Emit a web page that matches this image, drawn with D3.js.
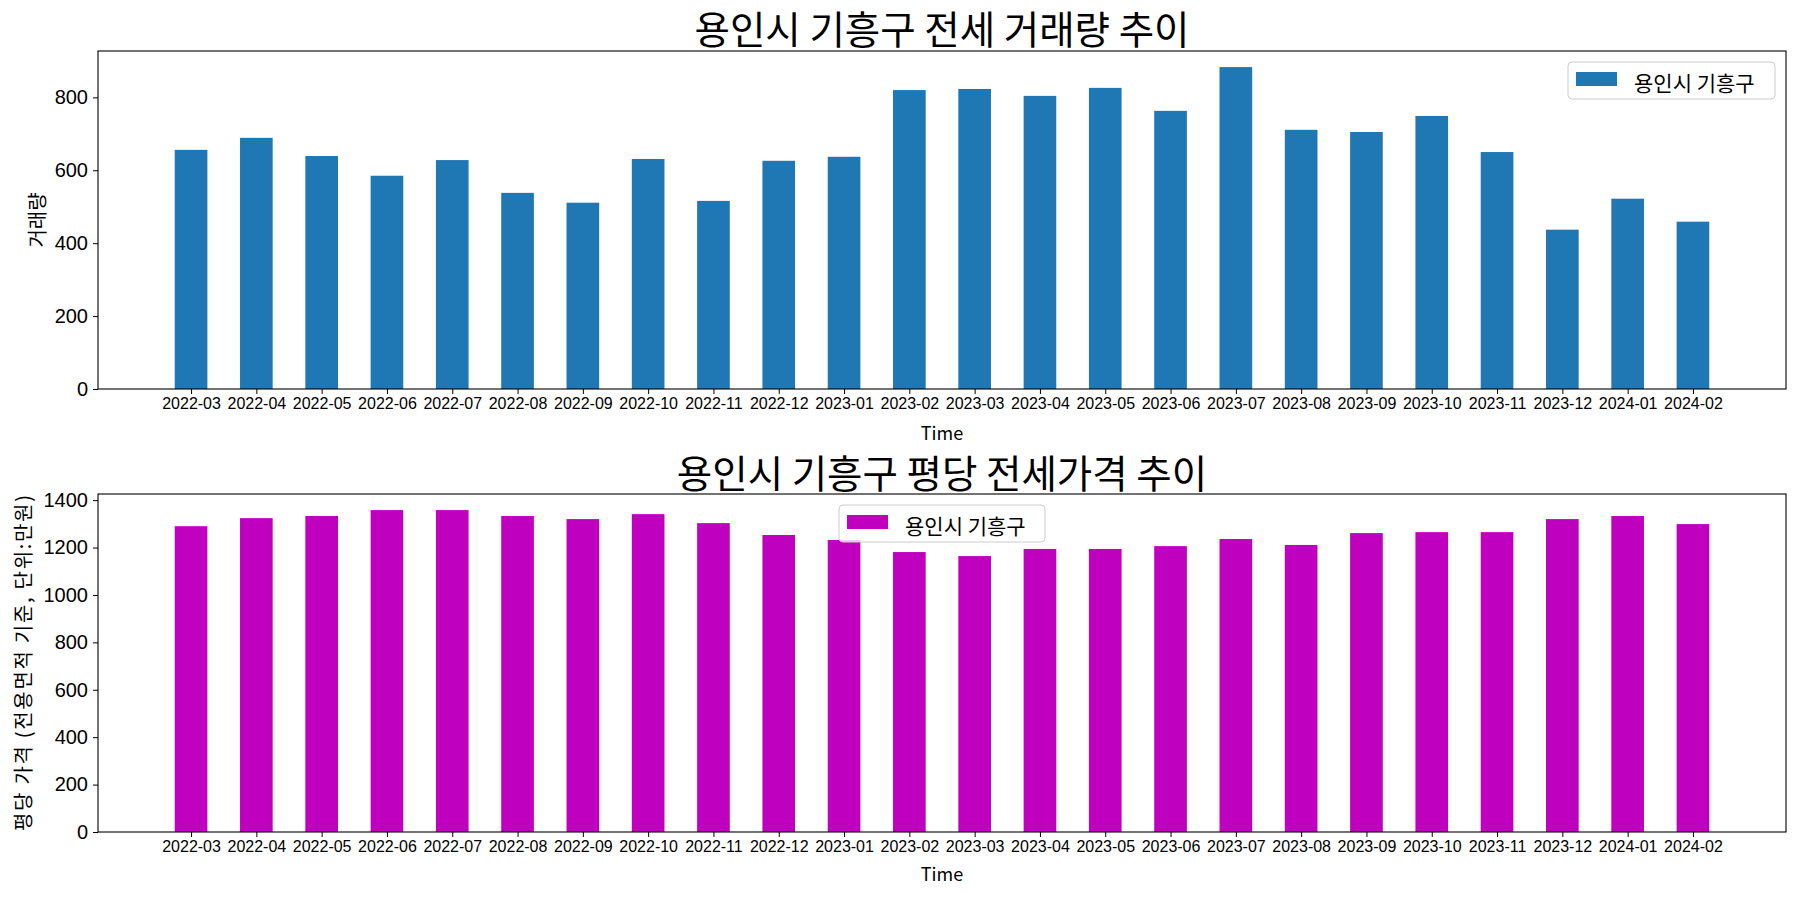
<!DOCTYPE html>
<html>
<head>
<meta charset="utf-8">
<script src="https://cdn.jsdelivr.net/npm/d3@7"></script>
<style>
  html, body { margin: 0; padding: 0; background: #fff; }
  svg { display: block; font-family: "Noto Sans CJK KR", "Noto Sans", sans-serif; }
</style>
</head>
<body>
<svg id="chart" width="1800" height="900"></svg>
<script>
// ---- data ----
const months = ["2022-03","2022-04","2022-05","2022-06","2022-07","2022-08","2022-09","2022-10","2022-11","2022-12",
  "2023-01","2023-02","2023-03","2023-04","2023-05","2023-06","2023-07","2023-08","2023-09","2023-10",
  "2023-11","2023-12","2024-01","2024-02"];
const volume = [656, 689, 639, 585, 628, 538, 511, 631, 516, 626,
  637, 820, 823, 804, 826, 763, 883, 711, 705, 749,
  650, 437, 522, 459];
const pricePerPyeong = [1290, 1324, 1333, 1358, 1358, 1333, 1320, 1341, 1303, 1253,
  1232, 1181, 1164, 1194, 1194, 1206, 1236, 1211, 1261, 1265,
  1265, 1320, 1333, 1299];
const seriesName = "용인시 기흥구";
const titles = ["용인시 기흥구 전세 거래량 추이", "용인시 기흥구 평당 전세가격 추이"];
const yLabels = ["거래량", "평당 가격 (전용면적 기준, 단위:만원)"];
const xLabel = "Time";
const yTicks1 = [0, 200, 400, 600, 800];
const yTicks2 = [0, 200, 400, 600, 800, 1000, 1200, 1400];
const colors = ["#1f77b4", "#bf00bf"];

const svg = d3.select("#chart");

function panel(cfg) {
  const { top, bottom, left, right, values, color, title, titleY, ylabel, ylabelX, ylabelLen, yticks, legendBox, xlabelY } = cfg;
  const n = values.length;
  const barW = 0.5;
  const pad = (n - 1 + barW) * 0.05;
  const x = d3.scaleLinear().domain([-barW / 2 - pad, n - 1 + barW / 2 + pad]).range([left, right]);
  const y = d3.scaleLinear().domain([0, d3.max(values) * 1.05]).range([bottom, top]);
  const g = svg.append("g");

  g.selectAll("rect.bar").data(values).enter().append("rect")
    .attr("class", "bar")
    .attr("x", (d, i) => x(i - barW / 2))
    .attr("width", (d, i) => x(i + barW / 2) - x(i - barW / 2))
    .attr("y", d => y(d))
    .attr("height", d => y(0) - y(d))
    .attr("fill", color);

  // axes frame
  g.append("rect").attr("x", left).attr("y", top).attr("width", right - left).attr("height", bottom - top)
    .attr("fill", "none").attr("stroke", "#000").attr("stroke-width", 1.1);

  const xa = g.append("g").attr("transform", `translate(0,${bottom})`)
    .call(d3.axisBottom(x).tickValues(d3.range(n)).tickFormat(i => months[i]).tickSize(5).tickPadding(4));
  xa.select(".domain").remove();
  xa.selectAll("text").attr("font-size", 16).attr("fill", "#000");
  xa.selectAll("line").attr("stroke", "#000");

  const ya = g.append("g").attr("transform", `translate(${left},0)`)
    .call(d3.axisLeft(y).tickValues(yticks).tickFormat(d3.format("d")).tickSize(5).tickPadding(5));
  ya.select(".domain").remove();
  ya.selectAll("text").attr("font-size", 20).attr("fill", "#000");
  ya.selectAll("line").attr("stroke", "#000");

  g.append("text").attr("x", (left + right) / 2).attr("y", titleY).attr("text-anchor", "middle")
    .attr("dominant-baseline", "central").attr("font-size", 38.5).attr("fill", "#000").text(title);

  const yl = g.append("text").attr("transform", `translate(${ylabelX},${(top + bottom) / 2}) rotate(-90)`)
    .attr("text-anchor", "middle").attr("dominant-baseline", "central")
    .attr("font-size", 20).attr("fill", "#000").text(ylabel);
  if (ylabelLen) yl.attr("textLength", ylabelLen).attr("lengthAdjust", "spacing");

  g.append("text").attr("x", (left + right) / 2).attr("y", xlabelY).attr("text-anchor", "middle")
    .attr("dominant-baseline", "central").attr("font-size", 18).attr("fill", "#000").text(xLabel);

  // legend
  const lg = g.append("g");
  lg.append("rect").attr("x", legendBox.x).attr("y", legendBox.y).attr("width", legendBox.w).attr("height", legendBox.h)
    .attr("rx", 4).attr("fill", "#fff").attr("fill-opacity", 0.8).attr("stroke", "#cccccc");
  lg.append("rect").attr("x", legendBox.x + 8).attr("y", legendBox.y + 10).attr("width", 41).attr("height", 14)
    .attr("fill", color);
  lg.append("text").attr("x", legendBox.x + 66).attr("y", legendBox.y + legendBox.h / 2 + 1)
    .attr("dominant-baseline", "central").attr("font-size", 21).attr("fill", "#000").text(seriesName);
}

panel({ top: 51, bottom: 389, left: 98, right: 1786, values: volume, color: colors[0], title: titles[0], titleY: 27,
  ylabel: yLabels[0], ylabelX: 36, yticks: yTicks1, legendBox: { x: 1568, y: 62, w: 207, h: 37 }, xlabelY: 432 });
panel({ top: 494, bottom: 832, left: 98, right: 1786, values: pricePerPyeong, color: colors[1], title: titles[1], titleY: 471,
  ylabel: yLabels[1], ylabelX: 22, ylabelLen: 336, yticks: yTicks2, legendBox: { x: 839, y: 505, w: 206, h: 37 }, xlabelY: 873 });
</script>
</body>
</html>
